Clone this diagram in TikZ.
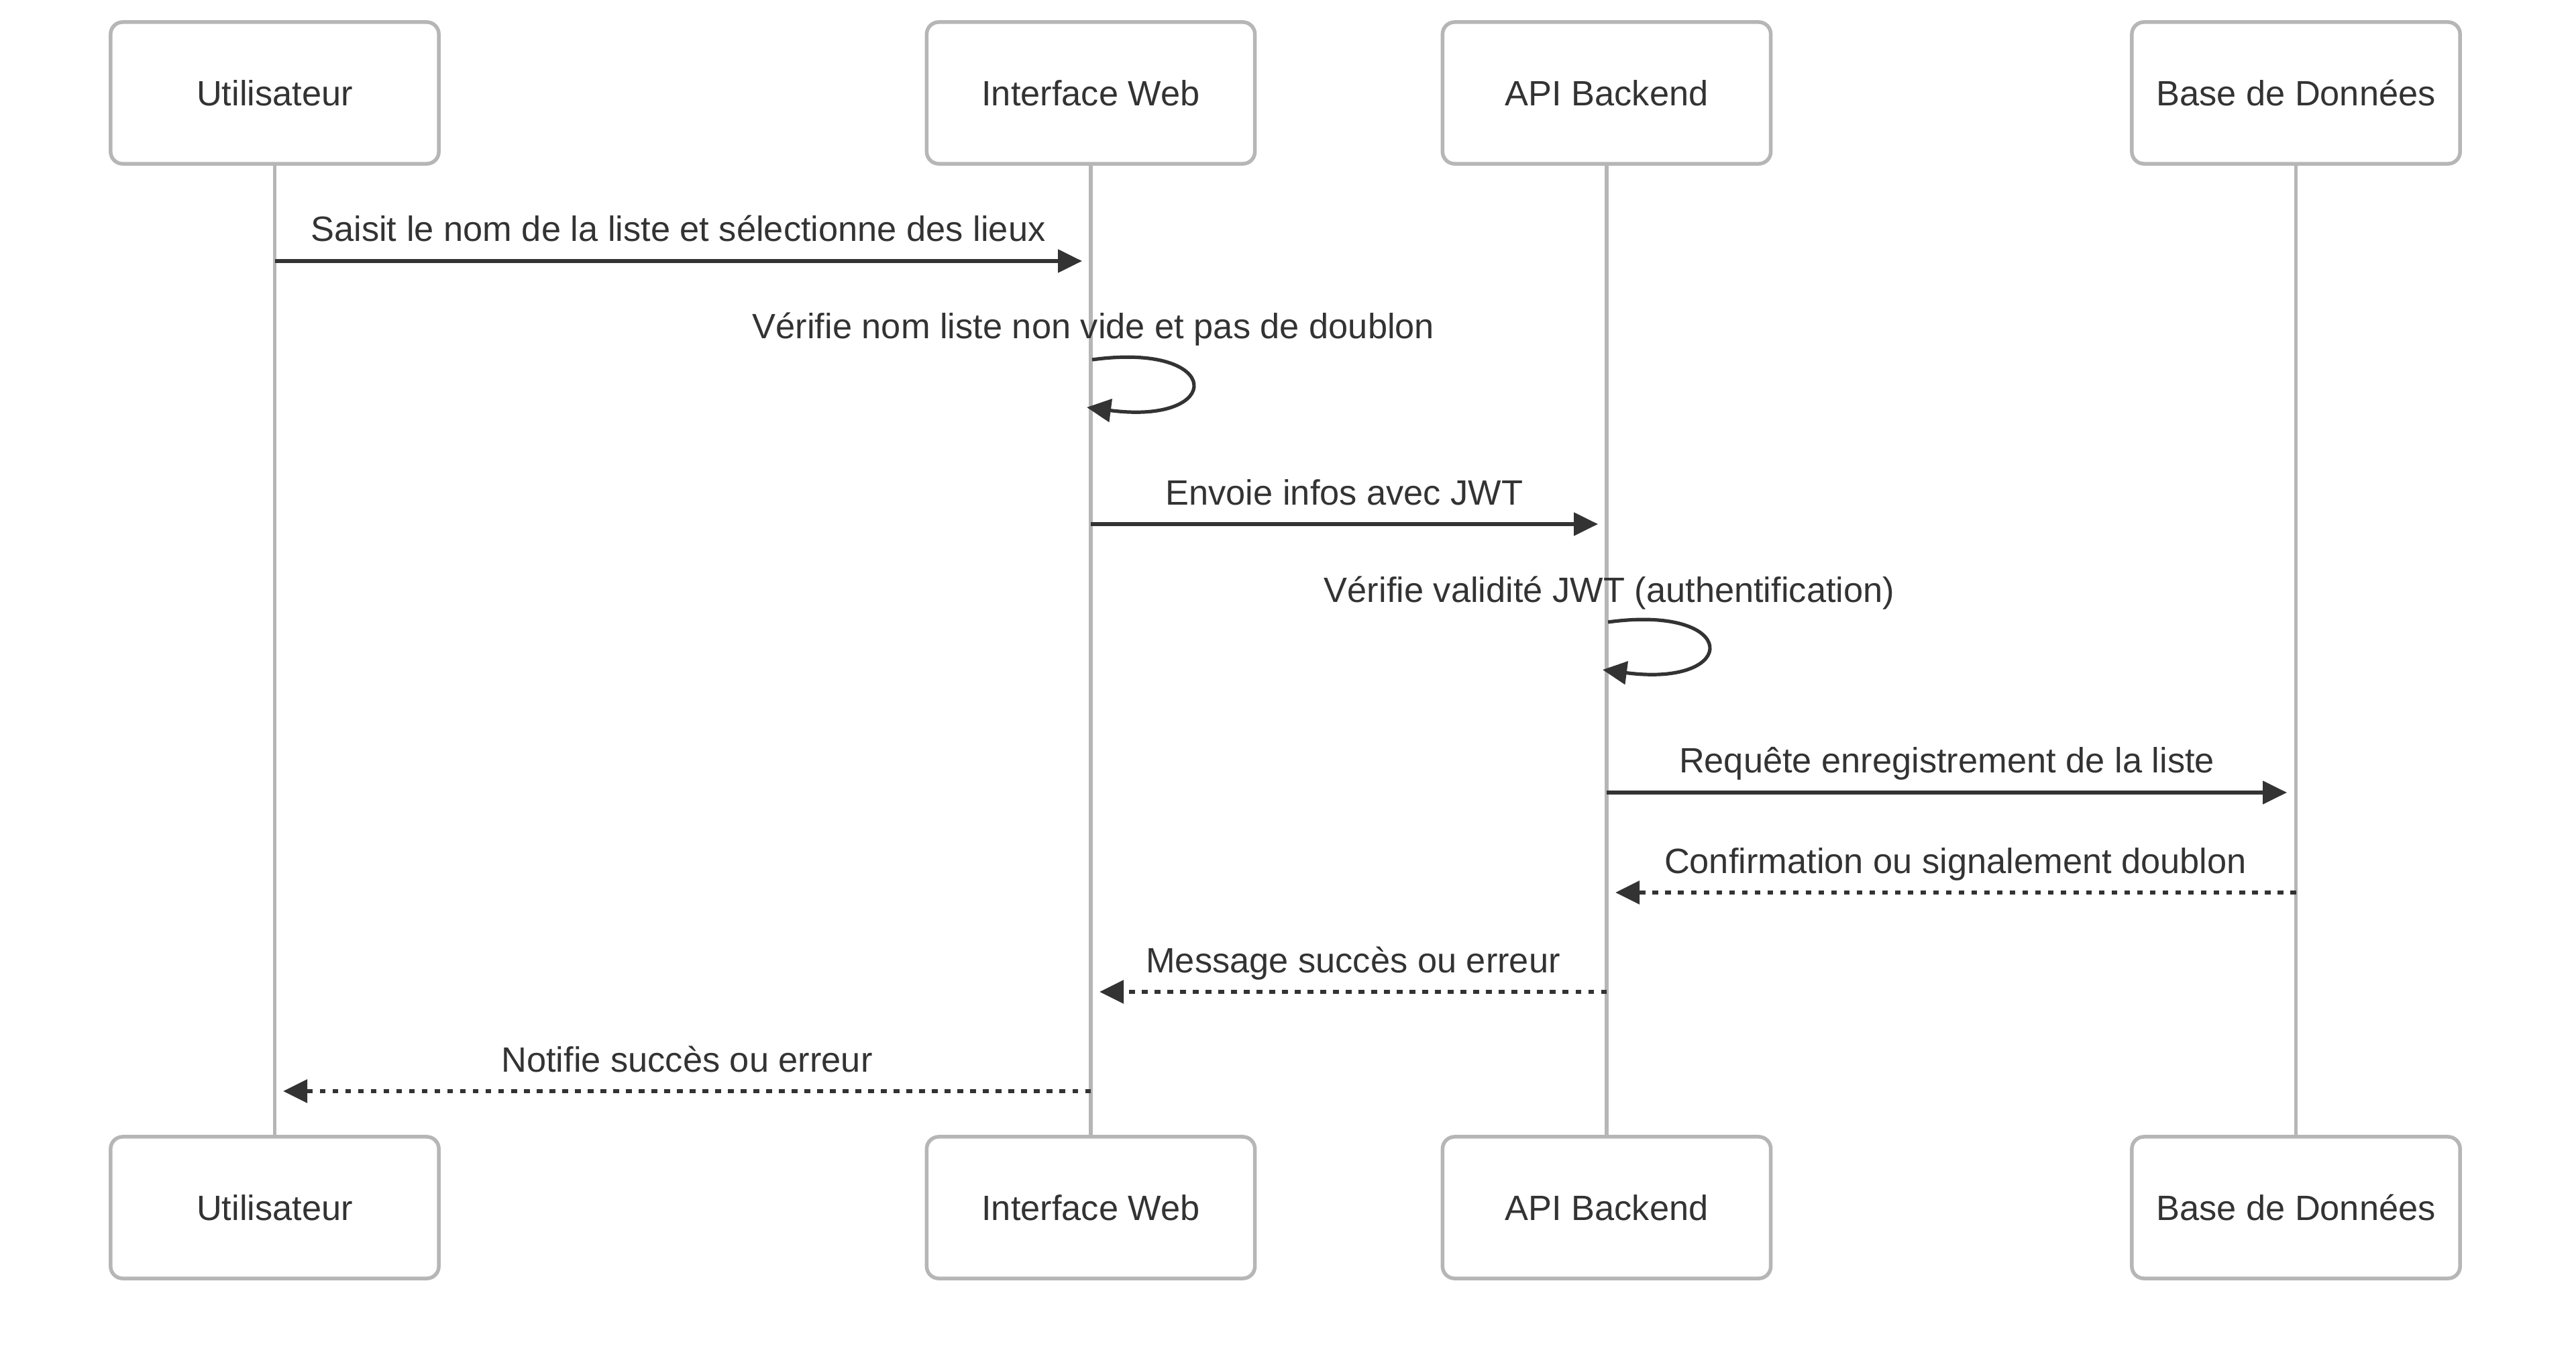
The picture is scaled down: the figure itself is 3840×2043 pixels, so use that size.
\documentclass[tikz,border=0pt]{standalone}
\usepackage{fontspec}
\setmainfont{Liberation Sans}
\usetikzlibrary{arrows.meta,backgrounds}
\definecolor{txt}{HTML}{333333}
\definecolor{frame}{HTML}{B6B6B6}
\begin{document}
\begin{tikzpicture}[x=0.01cm,y=-0.01cm,
  actor/.style={draw=frame, line width=0.055cm, rounded corners=0.18cm, fill=white,
    minimum width=4.89cm, minimum height=2.11cm, text=txt,
    font=\fontsize{14.9pt}{17.5pt}\selectfont, inner sep=0pt},
  life/.style={draw=frame, line width=0.055cm},
  msg/.style={draw=txt, line width=0.052cm, -{Triangle[length=0.36cm,width=0.34cm]}, fill=none},
  reply/.style={msg, dash pattern=on 0.085cm off 0.105cm, line width=0.056cm},
  lbl/.style={text=txt, font=\fontsize{14.9pt}{17.5pt}\selectfont, inner sep=0pt, anchor=base}]
\useasboundingbox (0,0) rectangle (3840,2043);

% actors (top and bottom)
\node[actor] (u)  at (409.5,138.5) {Utilisateur};
\node[actor] (w)  at (1626,138.5) {Interface Web};
\node[actor] (a)  at (2395,138.5) {API Backend};
\node[actor] (d)  at (3422.5,138.5) {Base de Données};
\node[actor] (ub) at (409.5,1799.5) {Utilisateur};
\node[actor] (wb) at (1626,1799.5) {Interface Web};
\node[actor] (ab) at (2395,1799.5) {API Backend};
\node[actor] (db) at (3422.5,1799.5) {Base de Données};

% background and lifelines
\begin{pgfonlayer}{background}
\fill[white] (0,0) rectangle (3840,2043);
\draw[life] (u.south) -- (ub.north);
\draw[life] (w.south) -- (wb.north);
\draw[life] (a.south) -- (ab.north);
\draw[life] (d.south) -- (db.north);
\end{pgfonlayer}

% message end points
\coordinate (m1s) at (409.5,389);  \coordinate (m1e) at (1613,389);
\coordinate (m2s) at (1628,536);   \coordinate (m2e) at (1620,607);
\coordinate (m3s) at (1626,781);   \coordinate (m3e) at (2382,781);
\coordinate (m4s) at (2397,927);   \coordinate (m4e) at (2389,998);
\coordinate (m5s) at (2395,1181);  \coordinate (m5e) at (3409,1181);
\coordinate (m6s) at (3422.5,1330);\coordinate (m6e) at (2408,1330);
\coordinate (m7s) at (2395,1478);  \coordinate (m7e) at (1639,1478);
\coordinate (m8s) at (1626,1626);  \coordinate (m8e) at (422,1626);

% messages
\draw[msg] (m1s) -- (m1e);
\draw[msg] (m2s) .. controls +(198,-27) and +(206,27) .. (m2e);
\draw[msg] (m3s) -- (m3e);
\draw[msg] (m4s) .. controls +(198,-27) and +(206,27) .. (m4e);
\draw[msg] (m5s) -- (m5e);
\draw[reply] (m6s) -- (m6e);
\draw[reply] (m7s) -- (m7e);
\draw[reply] (m8s) -- (m8e);

% labels
\node[lbl] (l1) at (1011,360) {Saisit le nom de la liste et sélectionne des lieux};
\node[lbl] (l2) at (1630,505) {Vérifie nom liste non vide et pas de doublon};
\node[lbl] (l3) at (2004,752) {Envoie infos avec JWT};
\node[lbl] (l4) at (2399,897) {Vérifie validité JWT (authentification)};
\node[lbl] (l5) at (2902,1151) {Requête enregistrement de la liste};
\node[lbl] (l6) at (2915,1301) {Confirmation ou signalement doublon};
\node[lbl] (l7) at (2017,1449) {Message succès ou erreur};
\node[lbl] (l8) at (1024,1597) {Notifie succès ou erreur};
\end{tikzpicture}
\end{document}
